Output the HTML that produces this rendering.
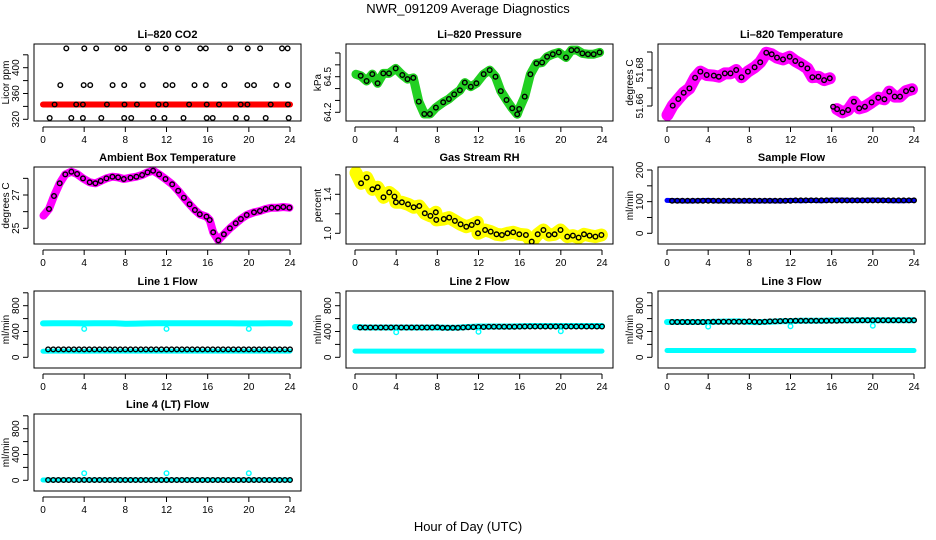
<!DOCTYPE html>
<html><head><meta charset="utf-8"><style>
html,body{margin:0;padding:0;background:#fff;}
svg{display:block;font-family:"Liberation Sans",Arial,sans-serif;}
</style></head><body>
<svg id="chart" width="936" height="540" viewBox="0 0 936 540" xmlns="http://www.w3.org/2000/svg">
<text x="468" y="13" text-anchor="middle" font-size="13">NWR_091209  Average Diagnostics</text>
<text x="468" y="531" text-anchor="middle" font-size="13">Hour of Day (UTC)</text>
</svg>
<script>
// ---------- data ----------
const xTicks = [0,4,8,12,16,20,24];
const hourly = [0,1,2,3,4,5,6,7,8,9,10,11,12,13,14,15,16,17,18,19,20,21,22,23,24];
const halfHours = [0.5,1,1.5,2,2.5,3,3.5,4,4.5,5,5.5,6,6.5,7,7.5,8,8.5,9,9.5,10,10.5,11,11.5,12,12.5,13,13.5,14,14.5,15,15.5,16,16.5,17,17.5,18,18.5,19,19.5,20,20.5,21,21.5,22,22.5,23,23.5,24];

// CO2
const co2Band = [343,343,343,343,343,343,343,343,343,343,343,343,343,343,343,343,343,343,343,343,343,343,343,343,343];
const co2HighT = [2.26,4.01,5.17,7.24,7.89,10.19,11.93,13.1,15.27,15.82,18.18,19.89,21.09,23.22,23.77];
const co2HighV = [430,430,430,430,430,430,430,430,430,430,430,430,430,430,430];
const co2MidT = [1.68,3.95,4.59,6.76,7.89,9.7,11.93,12.58,14.72,15.82,17.63,19.86,20.5,22.67,23.8];
const co2MidV = [373,373,373,373,373,373,373,373,373,373,373,373,373,373,373];
const co2BaseT = [1.13,3.23,3.88,6.21,7.92,9.12,11.22,11.93,14.2,15.91,17.1,19.21,19.86,22.12,23.8];
const co2BaseV = [343,343,343,343,343,343,343,343,343,343,343,343,343,343,343];
const co2LowT = [0.65,2.75,3.88,5.66,7.89,8.57,10.74,11.8,13.65,15.91,16.49,18.73,19.79,21.64,23.87];
const co2LowV = [322,322,322,322,322,322,322,322,322,322,322,322,322,322,322];

// Pressure
const presT = [0.1,0.55,1.13,1.68,2.2,2.75,3.3,3.95,4.6,5.1,5.66,6.2,6.73,7.28,7.86,8.57,9.12,9.64,10.19,10.67,11.25,11.8,12.51,13.09,13.65,14.17,14.72,15.27,15.76,15.95,16.49,17.04,17.63,18.18,18.67,19.22,19.8,20.5,21.03,21.57,22.1,22.64,23.19,23.77];
const presV = [64.52,64.508,64.464,64.522,64.444,64.528,64.528,64.57,64.514,64.48,64.49,64.29,64.186,64.186,64.24,64.284,64.312,64.351,64.385,64.45,64.416,64.444,64.522,64.556,64.5,64.379,64.304,64.234,64.183,64.228,64.332,64.52,64.612,64.62,64.668,64.69,64.705,64.662,64.724,64.724,64.696,64.69,64.69,64.705];

// Li-820 temperature
const tempT = [0.05,0.55,1.1,1.62,2.18,2.73,3.25,3.86,4.55,5.03,5.62,6.17,6.72,7.24,7.86,8.51,9.06,9.65,10.17,10.69,11.27,11.92,12.47,13.05,13.64,14.13,14.71,15.26,15.82,16.14,16.53,17.05,17.6,18.16,18.68,19.23,19.88,20.53,21.12,21.6,22.12,22.64,23.22,23.81];
const tempV = [51.655,51.6602,51.6639,51.6674,51.6698,51.6757,51.6791,51.6772,51.6769,51.6763,51.6781,51.6781,51.68,51.676,51.6791,51.6815,51.6843,51.6896,51.6887,51.6869,51.6859,51.6874,51.685,51.6831,51.6809,51.676,51.6763,51.6744,51.6754,null,51.6583,51.6565,51.6578,51.6624,51.6587,51.6596,51.662,51.6646,51.6637,51.668,51.6652,51.6652,51.6683,51.6693];
const tempCircT = [0.55,1.1,1.62,2.18,2.73,3.25,3.86,4.55,5.03,5.62,6.17,6.72,7.24,7.86,8.51,9.06,9.65,10.17,10.69,11.27,11.92,12.47,13.05,13.64,14.13,14.71,15.26,15.82,16.14,16.53,17.05,17.6,18.16,18.68,19.23,19.88,20.53,21.12,21.6,22.12,22.64,23.22,23.81];
const tempCircV = [51.6602,51.6639,51.6674,51.6698,51.6757,51.6791,51.6772,51.6769,51.6763,51.6781,51.6781,51.68,51.676,51.6791,51.6815,51.6843,51.6896,51.6887,51.6869,51.6859,51.6874,51.685,51.6831,51.6809,51.676,51.6763,51.6744,51.6754,51.6596,51.6583,51.6565,51.6578,51.6624,51.6587,51.6596,51.662,51.6646,51.6637,51.668,51.6652,51.6652,51.6683,51.6693];

// Ambient box temperature
const ambT = [0.05,0.58,1.07,1.62,2.17,2.76,3.31,3.89,4.54,5.09,5.61,6.16,6.74,7.3,7.85,8.5,9.08,9.63,10.15,10.7,11.28,11.9,12.55,13.14,13.69,14.24,14.76,15.24,15.89,16.2,16.54,17.03,17.58,18.16,18.72,19.23,19.79,20.5,21.08,21.63,22.22,22.8,23.35,23.94];
const ambV = [25.76,26.16,26.94,27.7,28.24,28.4,28.26,28.0,27.76,27.7,27.84,28.0,28.1,28.06,27.96,28.04,28.1,28.2,28.36,28.46,28.24,27.96,27.64,27.26,26.84,26.44,26.1,25.84,25.7,25.5,24.76,24.28,24.64,25.0,25.3,25.56,25.8,25.96,26.04,26.16,26.24,26.24,26.28,26.24];

// Gas stream RH
const rhT = [0.1,0.59,1.14,1.69,2.21,2.77,3.32,3.84,3.97,4.56,5.15,5.7,6.25,6.78,7.33,7.85,7.9,8.63,9.15,9.71,10.26,10.81,11.34,11.89,11.95,12.64,13.19,13.75,14.27,14.82,15.37,15.96,16.61,17.17,17.75,18.31,18.83,19.39,19.97,20.63,21.17,21.73,22.25,22.8,23.36,23.94];
const rhV = [1.62,1.513,1.571,1.451,1.472,1.369,1.42,1.376,1.318,1.318,1.297,1.267,1.28,1.205,1.178,1.215,1.137,1.147,1.161,1.127,1.092,1.068,1.085,1.113,1.0,1.034,1.017,0.99,0.983,1.0,1.01,0.99,0.983,0.915,0.99,1.034,0.983,0.99,1.034,0.966,0.976,0.956,0.99,0.976,0.966,0.983];

// Sample flow
const sampleBand = [104,103,102,103,104,102,103,102,103,102,103,102,104,103,104,103,105,105,104,104,105,104,103,103,104];
const sampleCirc = [103,103,103,103,103,103,103,103,103,103,103,103,103,103,103,103,103,103,103,103,103,103,103,103,104,104,104,104,104,104,104,104,104,104,104,104,104,104,104,104,104,104,104,104,104,104,104,104];

// Line flows
const spikeT = [4,12,20];
const l1Upper = [525,527,528,527,526,527,527,527,520,522,526,527,527,528,527,527,527,527,527,526,526,526,527,527,525];
const l1Lower = [95,96,96,96,95,96,96,96,96,96,96,96,96,96,96,96,96,96,96,96,96,96,96,96,96];
const l1Black = [122,122,122,122,122,122,122,122,122,122,122,122,122,122,122,122,122,122,122,122,122,122,122,122,122,122,122,122,122,122,122,122,122,122,122,122,122,122,122,122,122,122,122,122,122,122,122,122];
const l1Spike = [440,440,440];
const l2Upper = [470,462,462,462,462,462,462,462,462,458,460,470,478,478,478,478,482,486,486,486,486,486,486,486,486];
const l2Lower = [96,96,96,96,96,96,96,96,96,96,96,96,96,96,96,96,96,96,96,96,96,96,96,96,96];
const l2Black = [462,462,462,462,462,462,462,462,462,462,462,462,462,462,462,465,458,458,458,458,462,466,468,470,470,474,474,474,474,474,474,476,478,478,478,478,478,478,478,478,478,478,478,478,478,478,478,478];
const l2Spike = [388,395,405];
const l3Upper = [548,548,548,548,548,552,555,556,548,545,552,558,562,566,566,566,570,572,572,574,574,574,574,574,574];
const l3Lower = [106,106,106,106,106,106,106,106,106,106,106,106,106,106,106,106,106,106,106,106,106,106,106,106,106];
const l3Black = [548,548,548,548,548,548,548,548,550,552,552,552,552,552,552,556,550,548,552,556,560,562,564,564,566,566,566,566,566,566,566,568,568,570,572,572,574,574,574,574,574,574,574,574,574,574,574,574];
const l3Spike = [476,480,490];
const l4Band = [5,5,5,5,5,5,5,5,5,5,5,5,5,5,5,5,5,5,5,5,5,5,5,5,5];
const l4Black = [5,5,5,5,5,5,5,5,5,5,5,5,5,5,5,5,5,5,5,5,5,5,5,5,5,5,5,5,5,5,5,5,5,5,5,5,5,5,5,5,5,5,5,5,5,5,5,5];
const l4Spike = [110,110,110];

// ---------- layout ----------
const NS = "http://www.w3.org/2000/svg";
const svg = document.getElementById('chart');
const rowTop = [44,167,291,414];
const colLeft = [34,346,658];
const BOX_W = 267, BOX_H = 77;
function xScale(col, h){ return 43 + 312*col + h*(247/24); }

function mk(tag, attrs, parent){
  const e = document.createElementNS(NS, tag);
  for (const k in attrs) e.setAttribute(k, attrs[k]);
  (parent||svg).appendChild(e);
  return e;
}

const panels = [
 {name:'li820-co2', title:'Li\u2013820 CO2', ylab:'Licor ppm', r:0,c:0, vA:320,pA:75.3,vB:400,pB:23.7,
  ticks:[320,340,360,380,400,420], labels:[320,360,400],
  bands:[{t:hourly,v:co2Band,color:'#ff0000',w:6}],
  circles:[{t:co2HighT,v:co2HighV,color:'#000'},{t:co2MidT,v:co2MidV,color:'#000'},{t:co2BaseT,v:co2BaseV,color:'#000'},{t:co2LowT,v:co2LowV,color:'#000'}]},
 {name:'li820-pressure', title:'Li\u2013820 Pressure', ylab:'kPa', r:0,c:1, vA:64.2,pA:68.3,vB:64.5,pB:32.7,
  ticks:[64.2,64.3,64.4,64.5,64.6,64.7], labels:['64.2','64.5'],
  bands:[{t:presT,v:presV,color:'#22d022',w:9}],
  circles:[{t:presT.slice(1),v:presV.slice(1),color:'#000'}]},
 {name:'li820-temperature', title:'Li\u2013820 Temperature', ylab:'degrees C', r:0,c:2, vA:51.66,pA:62,vB:51.68,pB:26,
  ticks:[51.66,51.67,51.68,51.69], labels:['51.66','51.68'],
  bands:[{t:tempT,v:tempV,color:'#ff00ff',w:12}],
  circles:[{t:tempCircT,v:tempCircV,color:'#000'}]},
 {name:'ambient-box-temperature', title:'Ambient Box Temperature', ylab:'degrees C', r:1,c:0, vA:25,pA:61.3,vB:27,pB:28,
  ticks:[25,26,27,28], labels:[25,27],
  bands:[{t:ambT,v:ambV,color:'#ff00ff',w:8}],
  circles:[{t:ambT.slice(1),v:ambV.slice(1),color:'#000'}]},
 {name:'gas-stream-rh', title:'Gas Stream RH', ylab:'percent', r:1,c:1, vA:1.0,pA:66.3,vB:1.4,pB:27.3,
  ticks:[1.0,1.2,1.4,1.6], labels:['1.0','1.4'],
  bands:[{t:rhT,v:rhV,color:'#ffff00',w:13}],
  circles:[{t:rhT.slice(1),v:rhV.slice(1),color:'#000'}]},
 {name:'sample-flow', title:'Sample Flow', ylab:'ml/min', r:1,c:2, vA:0,pA:66.3,vB:200,pB:3,
  ticks:[0,50,100,150,200], labels:[0,100,200],
  bands:[{t:hourly,v:sampleBand,color:'#0000ff',w:5}],
  circles:[{t:halfHours,v:sampleCirc,color:'#000'}]},
 {name:'line1-flow', title:'Line 1 Flow', ylab:'ml/min', r:2,c:0, vA:0,pA:66.3,vB:800,pB:14.7,
  ticks:[0,200,400,600,800,1000], labels:[0,400,800],
  bands:[{t:hourly,v:l1Upper,color:'#00ffff',w:6},{t:hourly,v:l1Lower,color:'#00ffff',w:5}],
  circles:[{t:halfHours,v:l1Black,color:'#000'},{t:spikeT,v:l1Spike,color:'#00ffff'}]},
 {name:'line2-flow', title:'Line 2 Flow', ylab:'ml/min', r:2,c:1, vA:0,pA:66.3,vB:800,pB:14.7,
  ticks:[0,200,400,600,800,1000], labels:[0,400,800],
  bands:[{t:hourly,v:l2Upper,color:'#00ffff',w:6},{t:hourly,v:l2Lower,color:'#00ffff',w:5}],
  circles:[{t:halfHours,v:l2Black,color:'#000'},{t:spikeT,v:l2Spike,color:'#00ffff'}]},
 {name:'line3-flow', title:'Line 3 Flow', ylab:'ml/min', r:2,c:2, vA:0,pA:66.3,vB:800,pB:14.7,
  ticks:[0,200,400,600,800,1000], labels:[0,400,800],
  bands:[{t:hourly,v:l3Upper,color:'#00ffff',w:6},{t:hourly,v:l3Lower,color:'#00ffff',w:5}],
  circles:[{t:halfHours,v:l3Black,color:'#000'},{t:spikeT,v:l3Spike,color:'#00ffff'}]},
 {name:'line4-flow', title:'Line 4 (LT) Flow', ylab:'ml/min', r:3,c:0, vA:0,pA:66.3,vB:800,pB:14.7,
  ticks:[0,200,400,600,800,1000], labels:[0,400,800],
  bands:[{t:hourly,v:l4Band,color:'#00ffff',w:5}],
  circles:[{t:halfHours,v:l4Black,color:'#000'},{t:spikeT,v:l4Spike,color:'#00ffff'}]}
];

panels.forEach(p => {
  const top = rowTop[p.r], left = colLeft[p.c];
  const ys = v => top + p.pA + (v - p.vA) * (p.pB - p.pA) / (p.vB - p.vA);
  const xs = h => xScale(p.c, h);
  const g = mk('g', {});
  
  
  const clipId = 'clip-' + p.name;
  const cp = mk('clipPath', {id: clipId}, g);
  mk('rect', {x:left, y:top, width:BOX_W, height:BOX_H}, cp);

  const t = mk('text', {x:left + BOX_W/2, y:top - 6, 'text-anchor':'middle', 'font-size':'11', 'font-weight':'bold'}, g);
  t.textContent = p.title;
  
  

  const plot = mk('g', {'clip-path':'url(#' + clipId + ')'}, g);
  p.bands.forEach(b => {
    let d = '', pen = false;
    b.t.forEach((h, i) => {
      const v = b.v[i];
      if (v === null || v === undefined) { pen = false; return; }
      d += (pen ? 'L' : 'M') + xs(h).toFixed(1) + ' ' + ys(v).toFixed(1) + ' ';
      pen = true;
    });
    const path = mk('path', {d:d, fill:'none', stroke:b.color, 'stroke-width':b.w, 'stroke-linecap':'round', 'stroke-linejoin':'round'}, plot);
    
    
  });
  p.circles.forEach(s => {
    s.t.forEach((h, i) => {
      const c = mk('circle', {cx:xs(h).toFixed(1), cy:ys(s.v[i]).toFixed(1), r:2.3, fill:'none', stroke:s.color, 'stroke-width':1.4}, plot);
      
      
    });
  });

  const box = mk('rect', {x:left, y:top, width:BOX_W, height:BOX_H, fill:'none', stroke:'#000', 'stroke-width':1}, g);
  
  

  // x axis
  const xa = mk('g', {}, g);
  
  
  const bot = top + BOX_H;
  mk('line', {x1:xs(0), x2:xs(24), y1:bot + 6, y2:bot + 6, stroke:'#000'}, xa);
  xTicks.forEach(h => {
    mk('line', {x1:xs(h), x2:xs(h), y1:bot + 6, y2:bot + 11, stroke:'#000'}, xa);
    const tl = mk('text', {x:xs(h), y:bot + 22, 'text-anchor':'middle', 'font-size':'10'}, xa);
    tl.textContent = h;
    
    
  });

  // y axis
  const ya = mk('g', {}, g);
  
  
  const ax = left - 6;
  const tk = p.ticks.filter(v => ys(v) >= top - 1 && ys(v) <= bot + 1);
  mk('line', {x1:ax, x2:ax, y1:ys(tk[0]), y2:ys(tk[tk.length-1]), stroke:'#000'}, ya);
  tk.forEach(v => mk('line', {x1:ax - 5, x2:ax, y1:ys(v), y2:ys(v), stroke:'#000'}, ya));
  p.labels.forEach(v => {
    const yy = ys(parseFloat(v));
    const tl = mk('text', {x:0, y:0, 'text-anchor':'middle', 'font-size':'10', transform:'translate(' + (ax - 9) + ',' + yy + ') rotate(-90)'}, ya);
    tl.textContent = v;
    
    
  });
  const yl = mk('text', {x:0, y:0, 'text-anchor':'middle', 'font-size':'10', transform:'translate(' + (left - 25) + ',' + (top + BOX_H/2) + ') rotate(-90)'}, g);
  yl.textContent = p.ylab;
  
  
});
</script>
</body></html>
